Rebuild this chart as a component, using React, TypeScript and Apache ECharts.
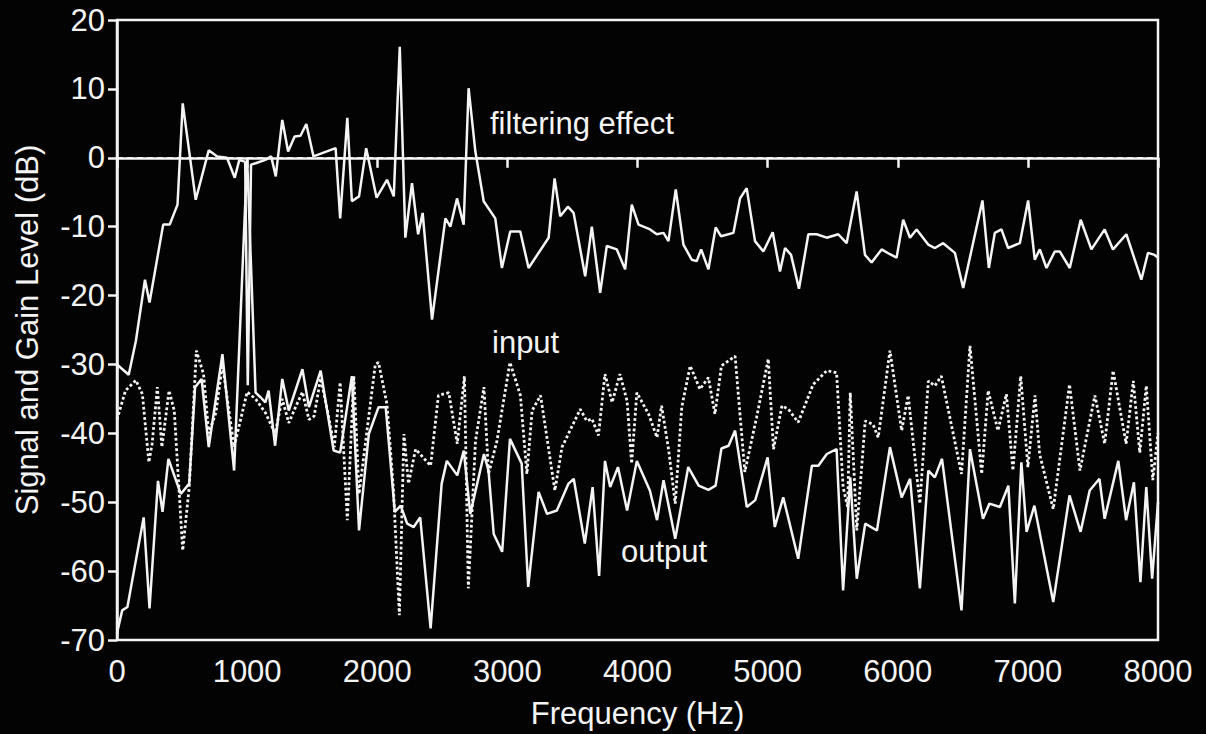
import React, { useEffect, useRef } from "react";
import * as echarts from "echarts";

const FONT = '"Liberation Sans", Arial, Helvetica, sans-serif';

const xTicks = [0, 1000, 2000, 3000, 4000, 5000, 6000, 7000, 8000];
const yTicks = [-70, -60, -50, -40, -30, -20, -10, 0, 10, 20];

// [frequency Hz, dB]
const filterEffect: number[][] = [
  [0, -30], [90, -31.5], [145, -26.6], [215, -17.7], [250, -21], [355, -9.7], [405, -9.7], [465, -6.8],
  [505, 7.9], [605, -6.1], [705, 1.1], [770, 0.2], [845, 0], [905, -2.9], [940, -0.3], [985, -0.6],
  [1005, -33], [1030, -1], [1065, -0.8], [1140, -0.3], [1185, 0.2], [1220, -2.7], [1270, 5.5], [1315, 0.9],
  [1365, 3.1], [1410, 3.2], [1455, 4.9], [1510, 0.2], [1680, 1.4], [1715, -8.8], [1770, 5.8], [1805, -6.3],
  [1860, -5.6], [1915, 1.4], [1995, -5.8], [2075, -3.2], [2127, -5.6], [2173, 16.1], [2216, -11.6],
  [2267, -3.7], [2314, -11.1], [2349, -8], [2421, -23.5], [2524, -8.8], [2562, -10], [2613, -5.9],
  [2664, -9.7], [2702, 10.1], [2754, 0.9], [2818, -6.3], [2907, -8.8], [2958, -16], [3022, -10.7],
  [3099, -10.7], [3163, -16], [3317, -11.6], [3363, -3], [3406, -8.5], [3465, -7.1], [3509, -8],
  [3598, -17.2], [3649, -10], [3713, -19.6], [3764, -12.8], [3841, -13.3], [3905, -16.2], [3956, -6.8],
  [4008, -9.7], [4097, -10.4], [4148, -11.1], [4200, -10.9], [4238, -12.1], [4294, -4.6], [4353, -12.6],
  [4417, -14.8], [4455, -15], [4489, -13.3], [4545, -16.2], [4601, -10.1], [4642, -11.4], [4737, -10.9],
  [4788, -5.9], [4839, -4.4], [4903, -12.1], [4967, -13.6], [5039, -10.8], [5095, -16.5], [5134, -13.1],
  [5180, -14.1], [5241, -19], [5313, -11.1], [5377, -11.1], [5454, -11.6], [5543, -11.1], [5607, -12.4],
  [5684, -4.9], [5748, -14.1], [5799, -15.2], [5876, -13.3], [5940, -14], [5991, -14.5], [6042, -9],
  [6094, -11.6], [6145, -10.4], [6234, -12.6], [6286, -13.1], [6349, -12.4], [6439, -13.8], [6503, -18.9],
  [6651, -6.2], [6700, -16], [6746, -10.9], [6797, -10.4], [6848, -13.1], [6938, -12.4], [7002, -6.2],
  [7053, -14.8], [7092, -13.3], [7143, -16], [7207, -13.6], [7245, -13.6], [7322, -16], [7406, -9],
  [7488, -13.3], [7590, -10.4], [7654, -13.3], [7757, -11.1], [7872, -17.7], [7923, -13.8], [7974, -14.1],
  [8000, -14.5],
];

const inputSignal: number[][] = [
  [0, -38], [65, -33.8], [145, -32.3], [195, -34.3], [245, -44.2], [270, -41.5], [310, -33.3], [345, -42],
  [400, -33.8], [440, -36.7], [505, -57], [555, -47.8], [610, -28], [665, -31.4], [705, -40], [760, -37],
  [810, -30], [900, -42], [1000, -34], [1065, -35], [1140, -37], [1215, -40], [1270, -35], [1320, -38.5],
  [1365, -36.5], [1425, -34], [1475, -38], [1515, -37.5], [1565, -32], [1620, -37], [1670, -42],
  [1715, -32.6], [1770, -52.6], [1820, -31.7], [1860, -48.8], [1985, -30], [2010, -29.7], [2075, -35.8],
  [2125, -48.3], [2170, -66.4], [2205, -40.1], [2240, -47.3], [2295, -42.3], [2410, -44.7], [2470, -34.5],
  [2550, -34.1], [2615, -41.5], [2670, -31.7], [2700, -62.5], [2755, -41.1], [2820, -33.3], [2855, -45.9],
  [2920, -41.1], [3020, -29.7], [3100, -34.5], [3150, -45.9], [3190, -36.7], [3255, -34.5], [3315, -42],
  [3365, -48.3], [3420, -42], [3560, -36.5], [3610, -38.2], [3650, -37.9], [3700, -40.3], [3750, -31.4],
  [3805, -35.5], [3865, -31.4], [3920, -35.3], [3955, -44.4], [3995, -34.1], [4085, -37.2], [4150, -40.6],
  [4185, -36], [4240, -42.5], [4290, -50.2], [4340, -36.2], [4405, -30.2], [4480, -33.6], [4545, -31.9],
  [4595, -37.2], [4645, -30.2], [4750, -28.8], [4825, -45.6], [4915, -37.7], [5005, -29.2], [5045, -42.3],
  [5110, -36], [5160, -36.5], [5235, -38.4], [5350, -32.9], [5455, -30.9], [5530, -31.2], [5580, -47.8],
  [5615, -50.7], [5635, -34.1], [5685, -54.1], [5750, -38.2], [5810, -38.7], [5850, -40.6], [5940, -28],
  [6030, -39.6], [6080, -34.5], [6170, -50.2], [6235, -32.4], [6285, -33.1], [6335, -31.7], [6490, -45.9],
  [6555, -27.3], [6645, -45.9], [6695, -33.8], [6770, -39.6], [6835, -34.3], [6885, -45.4], [6945, -31.7],
  [7000, -44.9], [7055, -34.5], [7090, -43], [7195, -51], [7320, -32.9], [7400, -45.4], [7515, -34.5],
  [7590, -41.5], [7655, -30.9], [7755, -41.5], [7810, -32.4], [7860, -42.8], [7910, -33.1], [7960, -46.8],
  [8000, -40],
];

const outputSignal: number[][] = [
  [0, -69], [40, -65.7], [80, -65.2], [205, -52.2], [250, -65.4], [315, -46.9], [350, -51.4], [395, -43.7],
  [490, -48.8], [555, -47.3], [600, -33.3], [650, -32.1], [705, -42], [810, -28.5], [900, -45.4], [1000, 0],
  [1065, -34.1], [1105, -34.8], [1140, -35.5], [1165, -33.8], [1215, -41.8], [1270, -32.1], [1320, -36.7],
  [1425, -30.7], [1475, -36.2], [1565, -30.9], [1665, -42.5], [1715, -42.8], [1805, -31.7], [1860, -54.1],
  [1935, -40.1], [2010, -36.2], [2065, -36.2], [2135, -51.4], [2180, -50.5], [2230, -53.1], [2280, -53.6],
  [2330, -52.2], [2410, -68.3], [2495, -47.3], [2535, -44], [2615, -46.1], [2665, -42.5], [2715, -51.7],
  [2820, -43], [2855, -45.4], [2895, -54.6], [2960, -57.2], [3020, -40.8], [3110, -44.4], [3160, -62.3],
  [3240, -48.5], [3305, -51.7], [3380, -51.2], [3470, -47.3], [3510, -46.6], [3595, -56], [3655, -47.8],
  [3705, -60.7], [3750, -44], [3790, -47.8], [3850, -44.9], [3920, -51.2], [3995, -44], [4095, -48.3],
  [4150, -52.6], [4200, -46.8], [4290, -55.3], [4390, -44.9], [4470, -47.6], [4545, -48.2], [4600, -47.6],
  [4645, -42.2], [4700, -41.8], [4750, -39.6], [4840, -50.7], [4905, -49.7], [5000, -43.5], [5055, -53.6],
  [5120, -49.3], [5235, -58.2], [5340, -44.7], [5390, -44.7], [5455, -43], [5530, -42.3], [5580, -62.8],
  [5635, -46.4], [5685, -61.1], [5750, -53.1], [5840, -54.1], [5940, -42], [6030, -49.3], [6095, -46.6],
  [6170, -62.5], [6235, -45.4], [6285, -46.4], [6340, -43.7], [6490, -65.7], [6555, -42.3], [6655, -52.4],
  [6705, -50.2], [6785, -50.7], [6850, -47.6], [6900, -64.7], [6950, -44.2], [6990, -54.3], [7050, -50.5],
  [7195, -64.5], [7320, -49], [7405, -54.3], [7475, -48.3], [7550, -46.6], [7590, -52.4], [7695, -44],
  [7755, -52.6], [7815, -47.1], [7865, -61.6], [7910, -47.8], [7955, -61.1], [8000, -50],
];

const seriesLabels = ["filtering effect", "input", "output"];

export default function App() {
  const ref = useRef<HTMLDivElement>(null);
  useEffect(() => {
    if (!ref.current) return;
    document.body.style.margin = "0";
    document.body.style.background = "#000";
    const chart = echarts.init(ref.current, null, { renderer: "svg" });
    const white = "#f4f4f4";
    const lw = 2.5;
    chart.setOption({
      animation: false,
      backgroundColor: "#030303",
      grid: {
        left: 117,
        right: 48,
        top: 20,
        bottom: 93,
        show: true,
        borderColor: white,
        borderWidth: lw,
        backgroundColor: "transparent",
      },
      xAxis: {
        type: "value",
        min: xTicks[0],
        max: xTicks[xTicks.length - 1],
        interval: 1000,
        name: "Frequency (Hz)",
        nameLocation: "middle",
        nameGap: 58,
        nameTextStyle: { color: white, fontSize: 31, fontFamily: FONT },
        axisLine: { show: true, lineStyle: { color: white, width: lw } },
        axisTick: { show: true, inside: false, length: 10, lineStyle: { color: white, width: lw } },
        axisLabel: {
          color: white,
          fontSize: 31,
          fontFamily: FONT,
          margin: 16,
          formatter: (v: number) => String(v),
        },
        splitLine: { show: false },
      },
      yAxis: {
        type: "value",
        min: yTicks[0],
        max: yTicks[yTicks.length - 1],
        interval: 10,
        name: "Signal and Gain Level (dB)",
        nameLocation: "middle",
        nameGap: 74,
        nameTextStyle: { color: white, fontSize: 31, fontFamily: FONT },
        axisLine: { show: true, lineStyle: { color: white, width: lw } },
        axisTick: { show: true, inside: false, length: 9, lineStyle: { color: white, width: lw } },
        axisLabel: {
          color: white,
          fontSize: 31,
          fontFamily: FONT,
          margin: 12,
          formatter: (v: number) => String(v),
        },
        splitLine: { show: false },
      },
      graphic: [
        { type: "text", left: 490, top: 108, style: { text: seriesLabels[0], fill: white, font: `31px ${FONT}` } },
        { type: "text", left: 492, top: 327, style: { text: seriesLabels[1], fill: white, font: `31px ${FONT}` } },
        { type: "text", left: 621, top: 536, style: { text: seriesLabels[2], fill: white, font: `31px ${FONT}` } },
      ],
      series: [
        {
          name: seriesLabels[1],
          type: "line",
          data: inputSignal,
          showSymbol: false,
          lineStyle: { color: white, width: 2.8, type: [2.8, 2.4] },
          z: 2,
        },
        {
          name: seriesLabels[2],
          type: "line",
          data: outputSignal,
          showSymbol: false,
          lineStyle: { color: white, width: lw },
          z: 3,
        },
        {
          name: seriesLabels[0],
          type: "line",
          data: filterEffect,
          showSymbol: false,
          lineStyle: { color: white, width: lw },
          z: 3,
          markLine: {
            silent: true,
            symbol: "none",
            label: { show: false },
            lineStyle: { color: white, width: 2, type: [6, 4] },
            data: [{ yAxis: 0 }],
          },
        },
      ],
    });
    return () => chart.dispose();
  }, []);
  return (
    <div
      ref={ref}
      style={{ position: "fixed", left: 0, top: 0, width: 1206, height: 734, background: "#000" }}
    />
  );
}
